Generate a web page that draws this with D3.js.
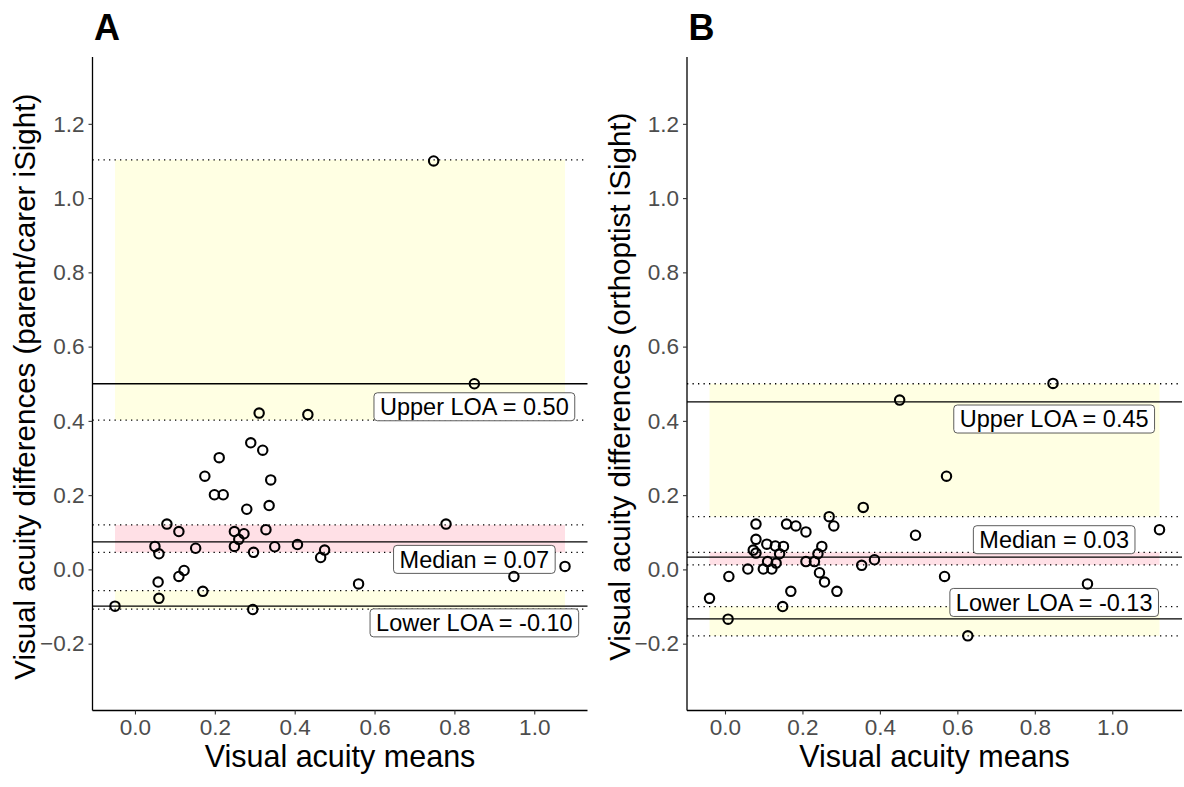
<!DOCTYPE html>
<html>
<head>
<meta charset="utf-8">
<script src="https://cdn.jsdelivr.net/npm/d3@7"></script>
<style>
  body { margin: 0; background: #fff; }
  svg { display: block; font-family: "Liberation Sans", Arial, Helvetica, sans-serif; }
</style>
</head>
<body>
<div id="chart"></div>
<script>
// panel A: parent/carer iSight
var aMeans = [0.85, 0.311, 0.433, 0.290, 0.320, 0.211, 0.175, 0.340, 0.199, 0.221,
              0.336, 0.280, 0.080, 0.779, 0.110, 0.249, 0.273, 0.328, 0.260, 0.050,
              0.060, 0.152, 0.249, 0.297, 0.350, 0.407, 0.475, 0.465, 1.077, 0.949,
              0.123, 0.110, 0.058, 0.560, 0.170, 0.060, -0.050, 0.295, 0.748];
var aDiffs = [0.50, 0.421, 0.417, 0.341, 0.321, 0.301, 0.251, 0.241, 0.201, 0.201,
              0.172, 0.162, 0.122, 0.122, 0.102, 0.102, 0.096, 0.107, 0.081, 0.062,
              0.042, 0.057, 0.062, 0.046, 0.061, 0.067, 0.052, 0.032, 0.008, -0.019,
              -0.003, -0.019, -0.034, -0.039, -0.059, -0.078, -0.099, -0.108, 1.10];
var aLines = [0.50, 0.074, -0.099];
var aBands = [[0.402, 1.103], [0.046, 0.12], [-0.107, -0.057]];
var aLabels = ["Upper LOA = 0.50", "Median = 0.07", "Lower LOA = -0.10"];
var aLabelY = [0.438, 0.027, -0.144];

// panel B: orthoptist iSight
var bMeans = [0.847, 0.451, 0.572, 0.357, 0.269, 0.281, 0.080, 0.159, 0.183, 0.209,
              0.492, 1.122, 0.080, 0.108, 0.130, 0.151, 0.250, 0.073, 0.080, 0.141,
              0.240, 0.110, 0.132, 0.209, 0.231, 0.386, 0.353, 0.059, 0.099, 0.121,
              0.244, 0.010, 0.567, 0.257, 0.936, 0.170, 0.289, -0.040, 0.149, 0.008,
              0.627];
var bDiffs = [0.501, 0.456, 0.251, 0.167, 0.142, 0.117, 0.122, 0.122, 0.117, 0.101,
              0.092, 0.107, 0.081, 0.068, 0.063, 0.062, 0.062, 0.052, 0.044, 0.042,
              0.042, 0.021, 0.017, 0.021, 0.021, 0.026, 0.011, 0.001, 0.001, 0.001,
              -0.009, -0.019, -0.019, -0.034, -0.039, -0.059, -0.059, -0.078, -0.100, -0.134,
              -0.179];
var bLines = [0.451, 0.033, -0.133];
var bBands = [[0.142, 0.50], [0.012, 0.046], [-0.179, -0.100]];
var bLabels = ["Upper LOA = 0.45", "Median = 0.03", "Lower LOA = -0.13"];
var bLabelY = [0.405, 0.080, -0.089];

var labelX = 0.85;
var yTicks = [-0.2, 0.0, 0.2, 0.4, 0.6, 0.8, 1.0, 1.2];
var xTicks = [0.0, 0.2, 0.4, 0.6, 0.8, 1.0];
var bandColors = ["#ffffe3", "#ffe0e6", "#ffffe3"];

var width = 1184;
var height = 787;

var svg = d3.select("#chart")
    .append("svg")
    .attr("width", width)
    .attr("height", height);

function drawPanel(left, tag, yTitle, means, diffs, lines, bands, labels, labelY){
    let top = 57, bottom = 710.5, w = 495;

    // ggplot style 5% expansion around the data
    let ext = d3.extent(means);
    let pad = (ext[1] - ext[0]) * 0.05;
    let x = d3.scaleLinear().domain([ext[0] - pad, ext[1] + pad]).range([left, left + w]);
    let y = d3.scaleLinear().domain([-0.38, 1.38]).range([bottom, top]);

    let g = svg.append("g");

    g.selectAll(".band")
        .data(bands)
        .enter()
        .append("rect")
        .attr("x", x(ext[0]))
        .attr("width", x(ext[1]) - x(ext[0]))
        .attr("y", d => y(d[1]))
        .attr("height", d => y(d[0]) - y(d[1]))
        .attr("fill", (d, i) => bandColors[i]);

    let dotted = bands.reduce((all, b) => all.concat(b), []);
    g.selectAll(".dotted")
        .data(dotted)
        .enter()
        .append("line")
        .attr("x1", left).attr("x2", left + w)
        .attr("y1", d => y(d)).attr("y2", d => y(d))
        .attr("stroke", "#000")
        .attr("stroke-width", 1.3)
        .attr("stroke-dasharray", "1.3,4.2");

    g.selectAll(".solid")
        .data(lines)
        .enter()
        .append("line")
        .attr("x1", left).attr("x2", left + w)
        .attr("y1", d => y(d)).attr("y2", d => y(d))
        .attr("stroke", "#000")
        .attr("stroke-width", 1.3);

    // axes
    let xAxis = g.append("g")
        .attr("transform", "translate(0," + bottom + ")")
        .call(d3.axisBottom(x).tickValues(xTicks).tickSize(4).tickPadding(5).tickFormat(d3.format(".1f")));
    let yAxis = g.append("g")
        .attr("transform", "translate(" + left + ",0)")
        .call(d3.axisLeft(y).tickValues(yTicks).tickSize(4).tickPadding(4).tickFormat(d3.format(".1f")));

    [xAxis, yAxis].forEach(function(ax){
        ax.select(".domain").attr("stroke", "#000").attr("stroke-width", 1.3);
        ax.selectAll(".tick line").attr("stroke", "#333").attr("stroke-width", 1.1);
        ax.selectAll(".tick text")
            .attr("fill", "#4d4d4d")
            .style("font-size", "22.5px")
            .style("font-family", "'Liberation Sans', Arial, Helvetica, sans-serif");
    });
    xAxis.select(".domain").attr("d", "M" + left + ",0H" + (left + w));
    yAxis.select(".domain").attr("d", "M0," + top + "V" + bottom);

    // limits of agreement labels
    let lab = g.selectAll(".lab")
        .data(labels)
        .enter()
        .append("g")
        .attr("transform", (d, i) => "translate(" + x(labelX) + "," + y(labelY[i]) + ")");
    lab.append("text")
        .attr("text-anchor", "middle")
        .attr("dy", "0.35em")
        .style("font-size", "23.5px")
        .attr("fill", "#000")
        .text(d => d);
    lab.each(function(){
        let t = d3.select(this).select("text");
        let bw = t.node().getComputedTextLength() + 12;
        d3.select(this).insert("rect", "text")
            .attr("x", -bw / 2).attr("y", -14)
            .attr("width", bw).attr("height", 28)
            .attr("rx", 3.5)
            .attr("fill", "#fff")
            .attr("stroke", "#333")
            .attr("stroke-width", 0.8);
    });

    g.selectAll(".pt")
        .data(means)
        .enter()
        .append("circle")
        .attr("cx", d => x(d))
        .attr("cy", (d, i) => y(diffs[i]))
        .attr("r", 4.7)
        .attr("fill", "none")
        .attr("stroke", "#000")
        .attr("stroke-width", 2.1);

    // titles
    g.append("text")
        .attr("x", left + w / 2)
        .attr("y", 767)
        .attr("text-anchor", "middle")
        .style("font-size", "30.5px")
        .text("Visual acuity means");

    g.append("text")
        .attr("transform", "translate(" + (left - 57.5) + "," + ((top + bottom) / 2 + 3) + ") rotate(-90)")
        .attr("text-anchor", "middle")
        .style("font-size", "29.5px")
        .text(yTitle);

    g.append("text")
        .attr("x", left + 1.5)
        .attr("y", 40)
        .style("font-size", "36px")
        .style("font-weight", "bold")
        .text(tag);
}

drawPanel(92.5, "A", "Visual acuity differences (parent/carer iSight)",
    aMeans, aDiffs, aLines, aBands, aLabels, aLabelY);
drawPanel(687, "B", "Visual acuity differences (orthoptist iSight)",
    bMeans, bDiffs, bLines, bBands, bLabels, bLabelY);
</script>
</body>
</html>
